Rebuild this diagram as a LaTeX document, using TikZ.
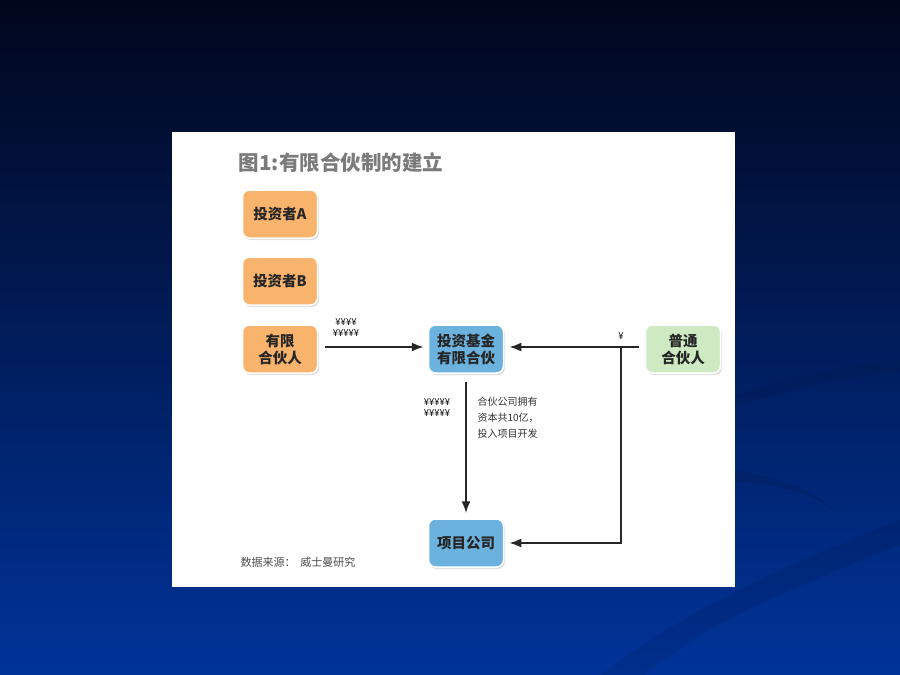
\documentclass[tikz,border=0pt]{standalone}
\usepackage{fontspec}
\newfontfamily\cjk{Noto Sans CJK SC}
\usepackage{tikz}
\usetikzlibrary{arrows.meta,positioning,calc,shadows}

\definecolor{slidetop}{HTML}{01061C}
\definecolor{slidemid}{HTML}{0A2A80}
\definecolor{slidebot}{HTML}{003399}
\definecolor{lporange}{HTML}{F8B36C}
\definecolor{fundblue}{HTML}{6CB2DF}
\definecolor{gpgreen}{HTML}{CDEAC3}
\definecolor{titlegray}{HTML}{7B7B7B}

\tikzset{
    partbox/.style={rounded corners=7pt, minimum width=75pt, minimum height=48pt,
        draw=white, line width=1.5pt, align=center, text=black!85,
        font=\cjk\bfseries\fontsize{14.5pt}{17pt}\selectfont,
        drop shadow={opacity=0.25, shadow xshift=1.5pt, shadow yshift=-2pt}},
    lpbox/.style={partbox, fill=lporange},
    fundbox/.style={partbox, fill=fundblue},
    gpbox/.style={partbox, fill=gpgreen},
    flow/.style={-{Latex[length=12pt,width=9pt]}, line width=2pt, black!85},
    yenmark/.style={font=\cjk\fontsize{9.5pt}{11pt}\selectfont, align=center, inner sep=0pt}
}

\begin{document}
\begin{tikzpicture}[x=1pt,y=-1pt]
    \useasboundingbox (0,0) rectangle (900,675);
    \shade[top color=slidetop, middle color=slidemid, bottom color=slidebot] (0,0) rectangle (900,675);

    % faint swooshes on the slide
    \fill[black, opacity=0.08] (600,675) .. controls (700,600) and (800,560) .. (900,520) -- (900,545) .. controls (800,585) and (700,625) .. (645,675) -- cycle;
    \fill[black, opacity=0.08] (735,470) .. controls (790,480) and (850,500) .. (840,540) .. controls (850,505) and (800,485) .. (735,482) -- cycle;
    \fill[black, opacity=0.06] (735,395) .. controls (790,375) and (850,365) .. (900,360) -- (900,372) .. controls (850,377) and (790,387) .. (735,407) -- cycle;

    \fill[white] (172,132) rectangle (735,587);

    \node[font=\cjk\bfseries\fontsize{20.5pt}{22pt}\selectfont, text=titlegray] (title) at (341,163) {图1:有限合伙制的建立};

    \node[lpbox] (invA) at (280,214) {投资者A};
    \node[lpbox] (invB) at (280,281) {投资者B};
    \node[lpbox] (lp) at (280,349) {有限\\合伙人};
    \node[fundbox] (fund) at (466,349) {投资基金\\有限合伙};
    \node[gpbox] (gp) at (683,349) {普通\\合伙人};
    \node[fundbox] (proj) at (466,543) {项目公司};

    \coordinate (split) at (621,347);

    \draw[flow, shorten <=7pt, shorten >=4pt] (lp.east |- split) -- (fund.west |- split);
    \draw[line width=2pt, black!85, shorten <=6pt] (gp.west |- split) -- (split);
    \draw[flow, shorten >=5pt] (split) -- (fund.east |- split);
    \draw[flow, shorten >=5pt] (split) |- (proj);
    \draw[flow, shorten <=8pt, shorten >=5pt] (fund) -- (proj);

    \node[yenmark] (yenlp) at (346,328) {¥¥¥¥\\¥¥¥¥¥};
    \node[yenmark] (yengp) at (621,336) {¥};
    \node[yenmark] (yenfund) at (437,408) {¥¥¥¥¥\\¥¥¥¥¥};
    \node[font=\cjk\fontsize{10pt}{16pt}\selectfont, align=left, anchor=west, text=black!80] (note) at (474,418) {合伙公司拥有\\资本共10亿，\\投入项目开发};

    \node[font=\cjk\fontsize{11pt}{13pt}\selectfont, text=black!70] (source) at (298,562) {数据来源：\ \ 威士曼研究};
\end{tikzpicture}
\end{document}
